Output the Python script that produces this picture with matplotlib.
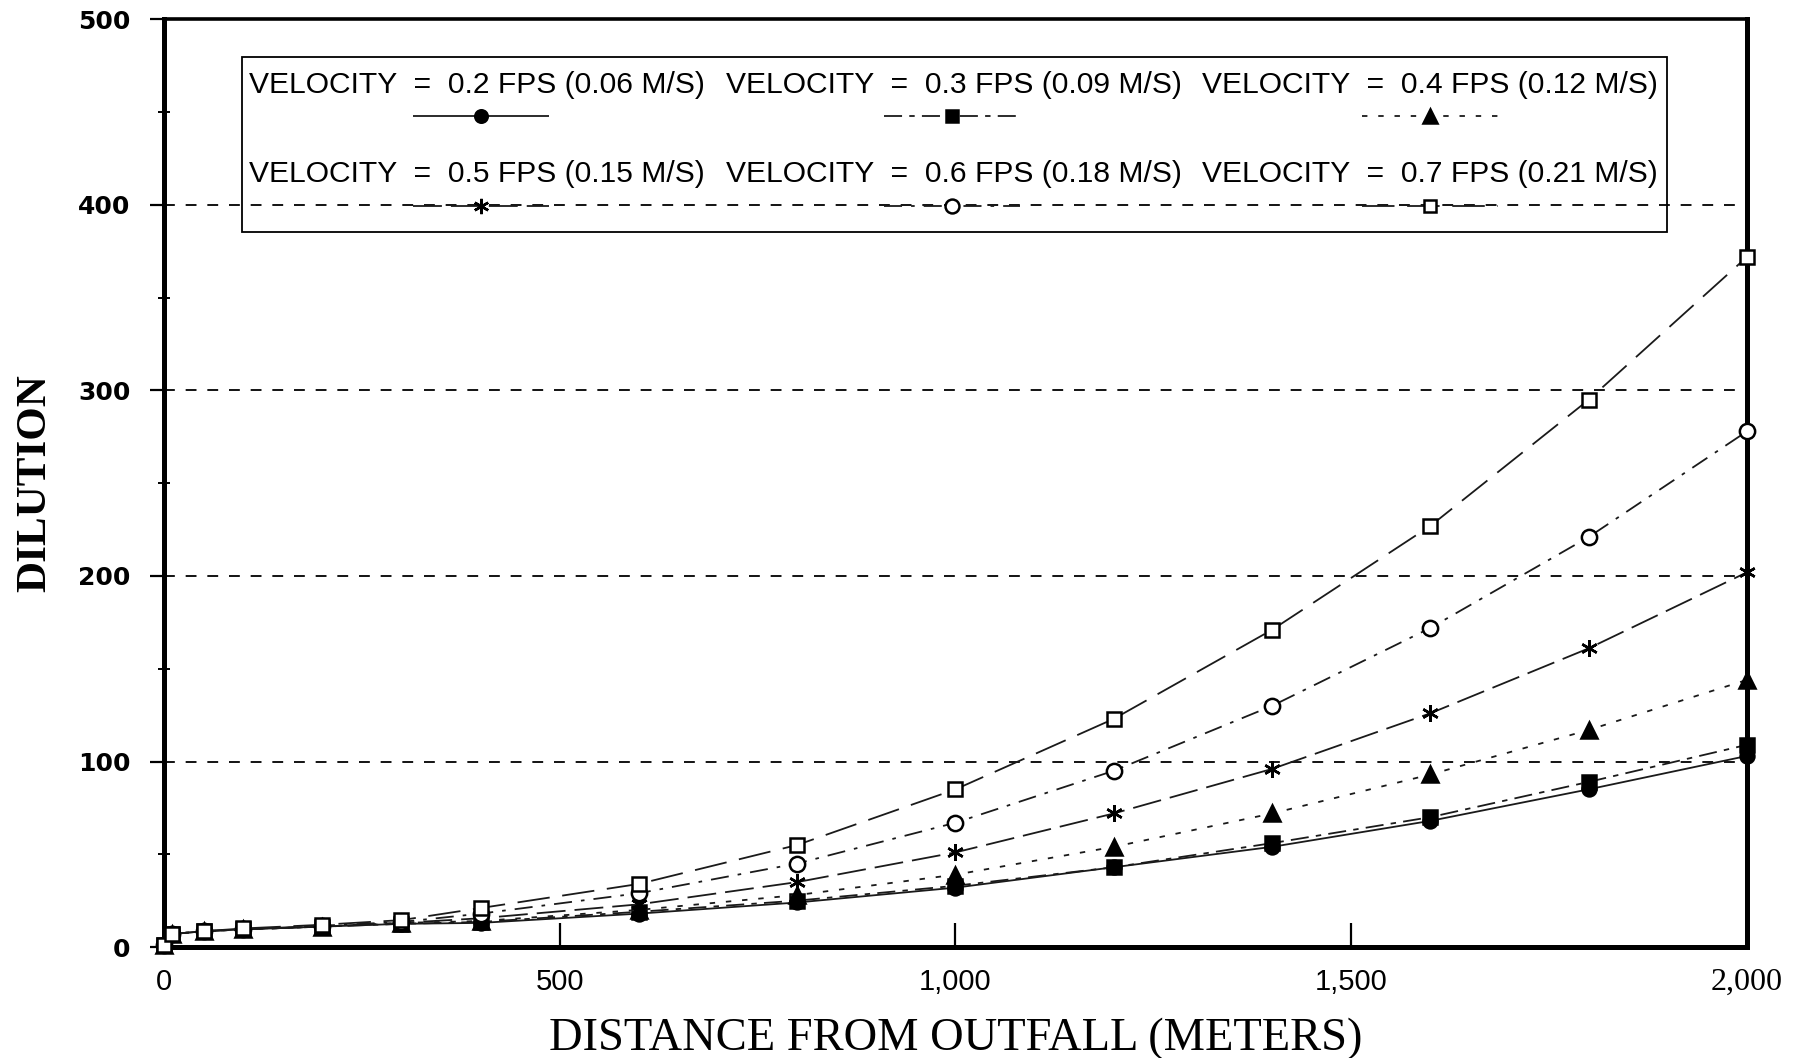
import numpy as np
import matplotlib
matplotlib.use('Agg')
import matplotlib.pyplot as plt
from matplotlib.patches import Rectangle

plt.rcParams['font.family'] = ['Liberation Sans', 'DejaVu Sans']

# Distance from outfall (m) and dilution for each current velocity
distance = [0, 10, 50, 100, 200, 300, 400, 600, 800, 1000, 1200, 1400, 1600, 1800, 2000]
dil_02 = [1, 7, 8.5, 9.5, 11, 12.5, 13, 18, 24, 32, 43, 54, 68, 85, 103]
dil_03 = [1, 7, 8.5, 9.5, 11, 12.5, 13.5, 19, 25, 33, 43, 56, 70, 89, 109]
dil_04 = [1, 7, 8.5, 9.5, 11, 13, 14, 20, 28, 39, 54, 72, 93, 117, 144]
dil_05 = [1, 7, 8.5, 9.5, 11, 13, 15.5, 23, 35, 51, 72, 96, 126, 161, 202]
dil_06 = [1, 7, 8.5, 9.5, 11.5, 13.5, 18, 29, 45, 67, 95, 130, 172, 221, 278]
dil_07 = [1, 7, 8.5, 10, 12, 14.5, 21, 34, 55, 85, 123, 171, 227, 295, 372]

labels = ['VELOCITY  =  0.2 FPS (0.06 M/S)', 'VELOCITY  =  0.3 FPS (0.09 M/S)',
          'VELOCITY  =  0.4 FPS (0.12 M/S)', 'VELOCITY  =  0.5 FPS (0.15 M/S)',
          'VELOCITY  =  0.6 FPS (0.18 M/S)', 'VELOCITY  =  0.7 FPS (0.21 M/S)']

series = [dil_02, dil_03, dil_04, dil_05, dil_06, dil_07]

# marker, face colour, marker size, dash pattern
styles = [
    ('o', 'black', 10, (0, ())),
    ('s', 'black', 10, (0, (10, 4, 3, 4))),
    ('^', 'black', 11, (0, (3, 6))),
    ((6, 2, 0), 'black', 12, (0, (16, 5))),
    ('o', 'white', 11, (0, (10, 5, 2, 5))),
    ('s', 'white', 10, (0, (18, 7))),
]

fig = plt.figure(figsize=(17.94, 10.58), dpi=100)
ax = fig.add_axes([0.0914, 0.1049, 0.8824, 0.8767])

for vals, (mk, fc, ms, ls) in zip(series, styles):
    ax.plot(distance, vals, color='#1a1a1a', lw=1.3, linestyle=ls,
            marker=mk, markerfacecolor=fc, markeredgecolor='black',
            markeredgewidth=1.8, markersize=ms, clip_on=False, zorder=3)

ax.set_xlim(0, 2000)
ax.set_ylim(0, 500)

# horizontal dashed grid
for yv in [100, 200, 300, 400]:
    ax.axhline(yv, color='black', lw=1.3, linestyle=(0, (6, 6)), zorder=1)

ax.set_xticks([0, 500, 1000, 1500, 2000])
ax.set_xticklabels(['0', '500', '1,000', '1,500', '2,000'])
ax.set_yticks([0, 100, 200, 300, 400, 500])
ax.set_yticks([50, 150, 250, 350, 450], minor=True)

ax.tick_params(axis='x', direction='in', length=17, width=1.6, pad=15, labelsize=21)
ax.tick_params(axis='y', which='major', direction='out', length=10, width=1.6, pad=14,
               labelsize=18)
ax.tick_params(axis='y', which='minor', direction='inout', length=9, width=1.4)
for t in ax.get_yticklabels():
    t.set_family('DejaVu Sans')
    t.set_fontweight('bold')
# last x label is set in a serif face in the reference
last = ax.get_xticklabels()[-1]
last.set_family('Liberation Serif')
last.set_fontsize(23)

for side in ['left', 'bottom', 'right']:
    ax.spines[side].set_linewidth(3.6)
ax.spines['top'].set_linewidth(2.6)

ax.set_xlabel('DISTANCE FROM OUTFALL (METERS)', family='Liberation Serif', fontsize=33.5)
ax.set_ylabel('DILUTION', family='Liberation Serif', fontsize=31, fontweight='bold')
ax.xaxis.set_label_coords(0.5, -0.076)
ax.yaxis.set_label_coords(-0.069, 0.5)

# legend box: label text above a sample of the line
ax.add_patch(Rectangle((0.0496, 0.7705), 0.8999, 0.1885, transform=ax.transAxes,
                       fill=False, edgecolor='black', lw=1.3, zorder=4))
text_x = [0.054, 0.355, 0.656]
sample_x = [0.2, 0.498, 0.8]
text_y = [0.929, 0.833]
line_y = [0.896, 0.799]
for i, (lab, (mk, fc, ms, ls)) in enumerate(zip(labels, styles)):
    row, col = divmod(i, 3)
    ax.text(text_x[col], text_y[row], lab, transform=ax.transAxes, fontsize=21.6,
            ha='left', va='center', zorder=5)
    cx = sample_x[col]
    ax.plot([cx - 0.043, cx + 0.043], [line_y[row], line_y[row]], transform=ax.transAxes,
            color='#1a1a1a', lw=1.3, linestyle=ls, zorder=5)
    ax.plot([cx], [line_y[row]], transform=ax.transAxes, marker=mk, markerfacecolor=fc,
            markeredgecolor='black', markeredgewidth=1.8, markersize=ms - 1, zorder=6)

fig.savefig('out.png', dpi=100)
